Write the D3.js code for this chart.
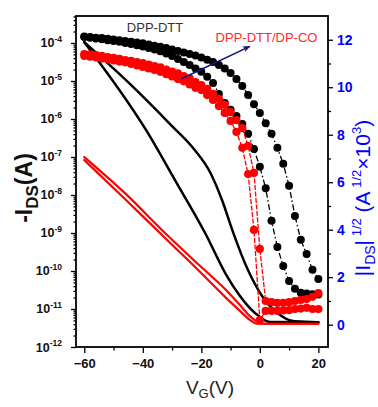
<!DOCTYPE html>
<html><head><meta charset="utf-8">
<script src="https://cdn.jsdelivr.net/npm/d3@7"></script>
<style>
body{margin:0;background:#fff}
text{font-family:"Liberation Sans",Arial,Helvetica,sans-serif}
</style>
</head><body>
<svg id="chart" width="378" height="407"></svg>
<script>
// ---------------- data ----------------
// gate-voltage sweep points for the transfer (log) curves
const sweepVg = [-60,-58,-56,-54,-52,-50,-48,-46,-44,-42,-40,-38,-36,-34,-32,-30,-28,-26,-24,-22,-20,-18,-16,-14,-12,-10,-8,-6,-4,-2,0,2,4,6,8,10,12,14,16,18,20];
// log10(-I_DS / A), DPP-DTT (black dots), two sweep directions
const dttOuterLog = [-3.83,-3.84,-3.86,-3.87,-3.89,-3.91,-3.93,-3.95,-3.97,-3.99,-4.01,-4.04,-4.07,-4.10,-4.13,-4.17,-4.21,-4.25,-4.29,-4.33,-4.38,-4.44,-4.50,-4.58,-4.67,-4.79,-4.95,-5.13,-5.37,-5.61,-5.84,-6.11,-6.39,-6.76,-7.18,-7.76,-8.55,-9.18,-9.55,-9.97,-10.21];
const dttInnerLog = [-3.84,-3.86,-3.88,-3.90,-3.93,-3.95,-3.97,-4.00,-4.03,-4.06,-4.09,-4.13,-4.17,-4.22,-4.28,-4.34,-4.42,-4.50,-4.58,-4.67,-4.76,-4.89,-5.05,-5.34,-5.58,-5.76,-5.92,-6.13,-6.39,-6.79,-7.26,-7.82,-8.68,-9.37,-9.87,-10.26,-10.47,-10.57,-10.59,-10.61,-10.62];
// log10(-I_DS / A), DPP-DTT/DP-CO (red dots), two sweep directions
const blendRightLog = [-4.29,-4.30,-4.32,-4.34,-4.37,-4.39,-4.42,-4.45,-4.47,-4.50,-4.53,-4.57,-4.61,-4.64,-4.70,-4.75,-4.80,-4.87,-4.93,-5.03,-5.11,-5.21,-5.34,-5.47,-5.63,-5.82,-6.03,-6.24,-6.71,-7.42,-9.42,-10.79,-10.82,-10.84,-10.84,-10.82,-10.79,-10.76,-10.74,-10.68,-10.58];
const blendLeftLog = [-4.34,-4.36,-4.38,-4.41,-4.43,-4.46,-4.49,-4.51,-4.55,-4.59,-4.63,-4.67,-4.71,-4.76,-4.82,-4.88,-4.95,-5.01,-5.09,-5.18,-5.24,-5.37,-5.50,-5.66,-5.84,-6.05,-6.34,-6.76,-7.45,-8.92,-11.29,-11.05,-11.05,-11.05,-11.04,-11.03,-11.00,-10.99,-10.97,-11.00,-11.00];

// |I_DS|^1/2 (A^1/2 x10^3), lines on the right axis
const dttSqrtAVg  = [-60,-38.7,-29.0,-18.7,-11.5,-6.8,-3.4,0.1,3.5,20];
const dttSqrtAVal = [11.90,8.16,6.09,3.86,2.10,1.21,0.70,0.32,0.11,0.10];
const dttSqrtBVg  = [-60,-44.4,-30.7,-22.2,-17.0,-12.9,-9.2,-4.1,0.75,6.9,12.0,20];
const dttSqrtBVal = [11.90,10.14,8.45,7.35,6.42,5.24,3.91,2.31,1.21,0.41,0.14,0.10];
const blendSqrtAVg  = [-60,-46.1,-32.4,-20.4,-11.9,-6.8,-3.4,-1.0,20];
const blendSqrtAVal = [6.93,5.29,3.65,2.22,1.17,0.58,0.20,0.04,0.04];
const blendSqrtBVg  = [-60,-46.1,-32.4,-20.4,-11.9,-6.8,-3.4,-0.6,1.8,20];
const blendSqrtBVal = [7.06,5.54,3.86,2.47,1.50,0.83,0.36,0.11,0.04,0.04];

// ticks
const xTicks = [-60,-40,-20,0,20];
const xMinor = [-50,-30,-10,10];
const leftExp = [-12,-11,-10,-9,-8,-7,-6,-5,-4];
const rightTicks = [0,2,4,6,8,10,12];
const rightMinor = [1,3,5,7,9,11];
// arrow annotation (Vg, right-axis value)
const arrowFrom = [-26.8, 10.36];
const arrowTo = [-3.4, 11.72];

// ---------------- drawing ----------------
const svg = d3.select("#chart");
const P = {l:76, r:328, t:16, b:347};
const x = d3.scaleLinear().domain([-62.84, 23.3]).range([P.l, P.r]);
const yL = d3.scaleLog().domain([1e-12, Math.pow(10,-3.29)]).range([P.b, P.t]);
const yR = d3.scaleLinear().domain([-0.94, 13]).range([P.b, P.t]);

svg.append("clipPath").attr("id","pc").append("rect")
  .attr("x",P.l).attr("y",P.t).attr("width",P.r-P.l).attr("height",P.b-P.t);
const plotG = svg.append("g").attr("clip-path","url(#pc)");

function sqrtLine(vg, val, color, w){
  const pts = vg.map((v,i)=>[x(v), yR(val[i])]);
  plotG.append("path").attr("d", d3.line().curve(d3.curveMonotoneX)(pts))
    .attr("fill","none").attr("stroke",color).attr("stroke-width",w)
    .attr("stroke-linejoin","round").attr("stroke-linecap","round");
}
sqrtLine(dttSqrtAVg, dttSqrtAVal, "#000", 2.5);
sqrtLine(dttSqrtBVg, dttSqrtBVal, "#000", 2.5);
sqrtLine(blendSqrtAVg, blendSqrtAVal, "#ff0000", 2.2);
sqrtLine(blendSqrtBVg, blendSqrtBVal, "#ff0000", 2.2);

function dotSeries(logs, color, dash){
  const pts = sweepVg.map((v,i)=>[x(v), yL(Math.pow(10, logs[i]))]);
  plotG.append("path").attr("d", d3.line()(pts)).attr("fill","none")
    .attr("stroke",color).attr("stroke-width",1.3).attr("stroke-dasharray",dash);
  return pts;
}
const blackPts = [dotSeries(dttOuterLog,"#000","6,2.5,1.5,2.5"), dotSeries(dttInnerLog,"#000","6,2.5,1.5,2.5")];
blackPts.forEach(pts=>{
  plotG.append("g").selectAll("circle").data(pts).join("circle")
    .attr("cx",d=>d[0]).attr("cy",d=>d[1]).attr("r",4).attr("fill","#000");
});
const redPts = [dotSeries(blendRightLog,"#ff0000","5,1.5"), dotSeries(blendLeftLog,"#ff0000","5,1.5")];
redPts.forEach(pts=>{
  plotG.append("g").selectAll("circle").data(pts).join("circle")
    .attr("cx",d=>d[0]).attr("cy",d=>d[1]).attr("r",4.1).attr("fill","#ff0000");
});

// arrow
svg.append("defs").append("marker").attr("id","ah").attr("viewBox","0 0 10 10")
  .attr("refX",9).attr("refY",5).attr("markerWidth",9).attr("markerHeight",8)
  .attr("markerUnits","userSpaceOnUse").attr("orient","auto")
  .append("path").attr("d","M0,1 L10,5 L0,9 L3,5 Z").attr("fill","#121283");
svg.append("line").attr("x1",x(arrowFrom[0])).attr("y1",yR(arrowFrom[1]))
  .attr("x2",x(arrowTo[0])).attr("y2",yR(arrowTo[1]))
  .attr("stroke","#121283").attr("stroke-width",1.6).attr("marker-end","url(#ah)");

// frame
svg.append("rect").attr("x",P.l).attr("y",P.t).attr("width",P.r-P.l).attr("height",P.b-P.t)
  .attr("fill","none").attr("stroke","#000").attr("stroke-width",1.8);

// bottom axis
const gx = svg.append("g").attr("transform",`translate(0,${P.b})`)
  .call(d3.axisBottom(x).tickValues(xTicks).tickSize(6).tickPadding(6).tickFormat(d3.format("d")));
svg.append("g").attr("transform",`translate(0,${P.b})`)
  .call(d3.axisBottom(x).tickValues(xMinor).tickSize(3.5).tickFormat(""));
// left axis
svg.append("g").attr("transform",`translate(${P.l},0)`)
  .call(d3.axisLeft(yL).tickValues(leftExp.map(e=>Math.pow(10,e))).tickSize(5).tickFormat(""));
const leftMinor = [];
leftExp.forEach(e=>{ for(let m=2;m<=9;m++){ const v=m*Math.pow(10,e); if(v<yL.domain()[1]) leftMinor.push(v);} });
svg.append("g").attr("transform",`translate(${P.l},0)`)
  .call(d3.axisLeft(yL).tickValues(leftMinor).tickSize(2.5).tickFormat(""));
// right axis
const gr = svg.append("g").attr("transform",`translate(${P.r},0)`)
  .call(d3.axisRight(yR).tickValues(rightTicks).tickSize(5).tickPadding(4).tickFormat(d3.format("d")));
svg.append("g").attr("transform",`translate(${P.r},0)`)
  .call(d3.axisRight(yR).tickValues(rightMinor).tickSize(3).tickFormat(""));

svg.selectAll(".domain").remove();
svg.selectAll(".tick line").attr("stroke","#000").attr("stroke-width",1.3);

gx.selectAll(".tick text").attr("font-size",13).attr("font-weight","bold")
  .attr("fill","#111").attr("font-family",'"Liberation Sans",Arial,sans-serif');
gr.selectAll(".tick text").attr("font-size",14).attr("font-weight","bold")
  .attr("fill","#0000ff").attr("font-family",'"Liberation Sans",Arial,sans-serif');

// left labels 10^n
const ll = svg.append("g");
leftExp.forEach(e=>{
  const t = ll.append("text").attr("x",62).attr("y",yL(Math.pow(10,e))+4.5)
    .attr("text-anchor","end").attr("font-weight","bold").attr("fill","#111");
  t.append("tspan").attr("font-size",12.5).text("10");
  t.append("tspan").attr("font-size",8.5).attr("dy",-5.5).text(String(e));
});

// texts
svg.append("text").attr("x",155).attr("y",32).attr("text-anchor","middle")
  .attr("font-size",13).attr("fill","#333").text("DPP-DTT");
svg.append("text").attr("x",266.5).attr("y",41.5).attr("text-anchor","middle")
  .attr("font-size",13).attr("fill","#ff2a2a").text("DPP-DTT/DP-CO");

// x title
const xt = svg.append("text").attr("x",210).attr("y",394).attr("text-anchor","middle")
  .attr("font-size",19).attr("fill","#222");
xt.append("tspan").text("V");
xt.append("tspan").attr("font-size",13).attr("dy",4).text("G");
xt.append("tspan").attr("dy",-4).text("(V)");

// left title
const lt = svg.append("text").attr("transform","translate(32,188) rotate(-90)")
  .attr("text-anchor","middle").attr("font-size",23).attr("font-weight","bold").attr("fill","#111");
lt.append("tspan").text("-I");
lt.append("tspan").attr("font-size",17).attr("dy",6).text("DS");
lt.append("tspan").attr("dy",-6).text("(A)");

// right title
const rt = svg.append("text").attr("transform","translate(370,198) rotate(-90)")
  .attr("text-anchor","middle").attr("font-size",21).attr("fill","#0000ff");
rt.append("tspan").text("|I");
rt.append("tspan").attr("font-size",14).attr("dy",5).text("DS");
rt.append("tspan").attr("dy",-5).text("|");
rt.append("tspan").attr("font-size",13).attr("dy",-9).text(" 1/2");
rt.append("tspan").attr("dy",9).text(" (A");
rt.append("tspan").attr("font-size",13).attr("dy",-9).text(" 1/2");
rt.append("tspan").attr("dy",9).text("\u00d710");
rt.append("tspan").attr("font-size",13).attr("dy",-9).text("3");
rt.append("tspan").attr("dy",9).text(")");
</script>
</body></html>
